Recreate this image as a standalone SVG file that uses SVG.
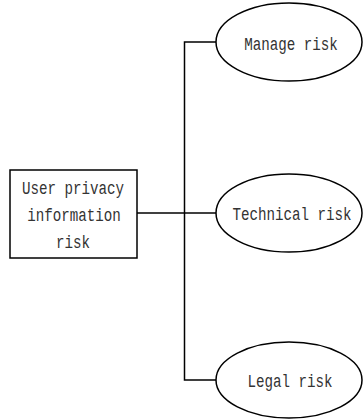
<svg xmlns="http://www.w3.org/2000/svg" width="363" height="419" viewBox="0 0 363 419">
<style>
.s{fill:#fff;stroke:#000;stroke-width:1.5}
.c{fill:none;stroke:#000;stroke-width:1.5}
text{font-family:"Liberation Mono","DejaVu Sans Mono",monospace;font-size:14.2px;fill:#333;text-anchor:middle}
</style>
<rect width="363" height="419" fill="#fff"/>
<g id="connectors">
<path class="c" d="M137 213H216"/>
<path class="c" d="M216 42H184.5V380H216"/>
</g>
<g id="root">
<rect class="s" x="10" y="170" width="127" height="88"/>
<text transform="translate(73 194) scale(1 1.3)">User privacy</text>
<text transform="translate(74 221) scale(1 1.3)">information</text>
<text transform="translate(73 248) scale(1 1.3)">risk</text>
</g>
<g id="manage">
<ellipse class="s" cx="289" cy="42" rx="73" ry="39"/>
<text transform="translate(291 50) scale(1 1.3)">Manage risk</text>
</g>
<g id="technical">
<ellipse class="s" cx="289" cy="213" rx="73" ry="39"/>
<text transform="translate(292 220) scale(1 1.3)">Technical risk</text>
</g>
<g id="legal">
<ellipse class="s" cx="289" cy="380" rx="73" ry="38"/>
<text transform="translate(290 387) scale(1 1.3)">Legal risk</text>
</g>
</svg>
